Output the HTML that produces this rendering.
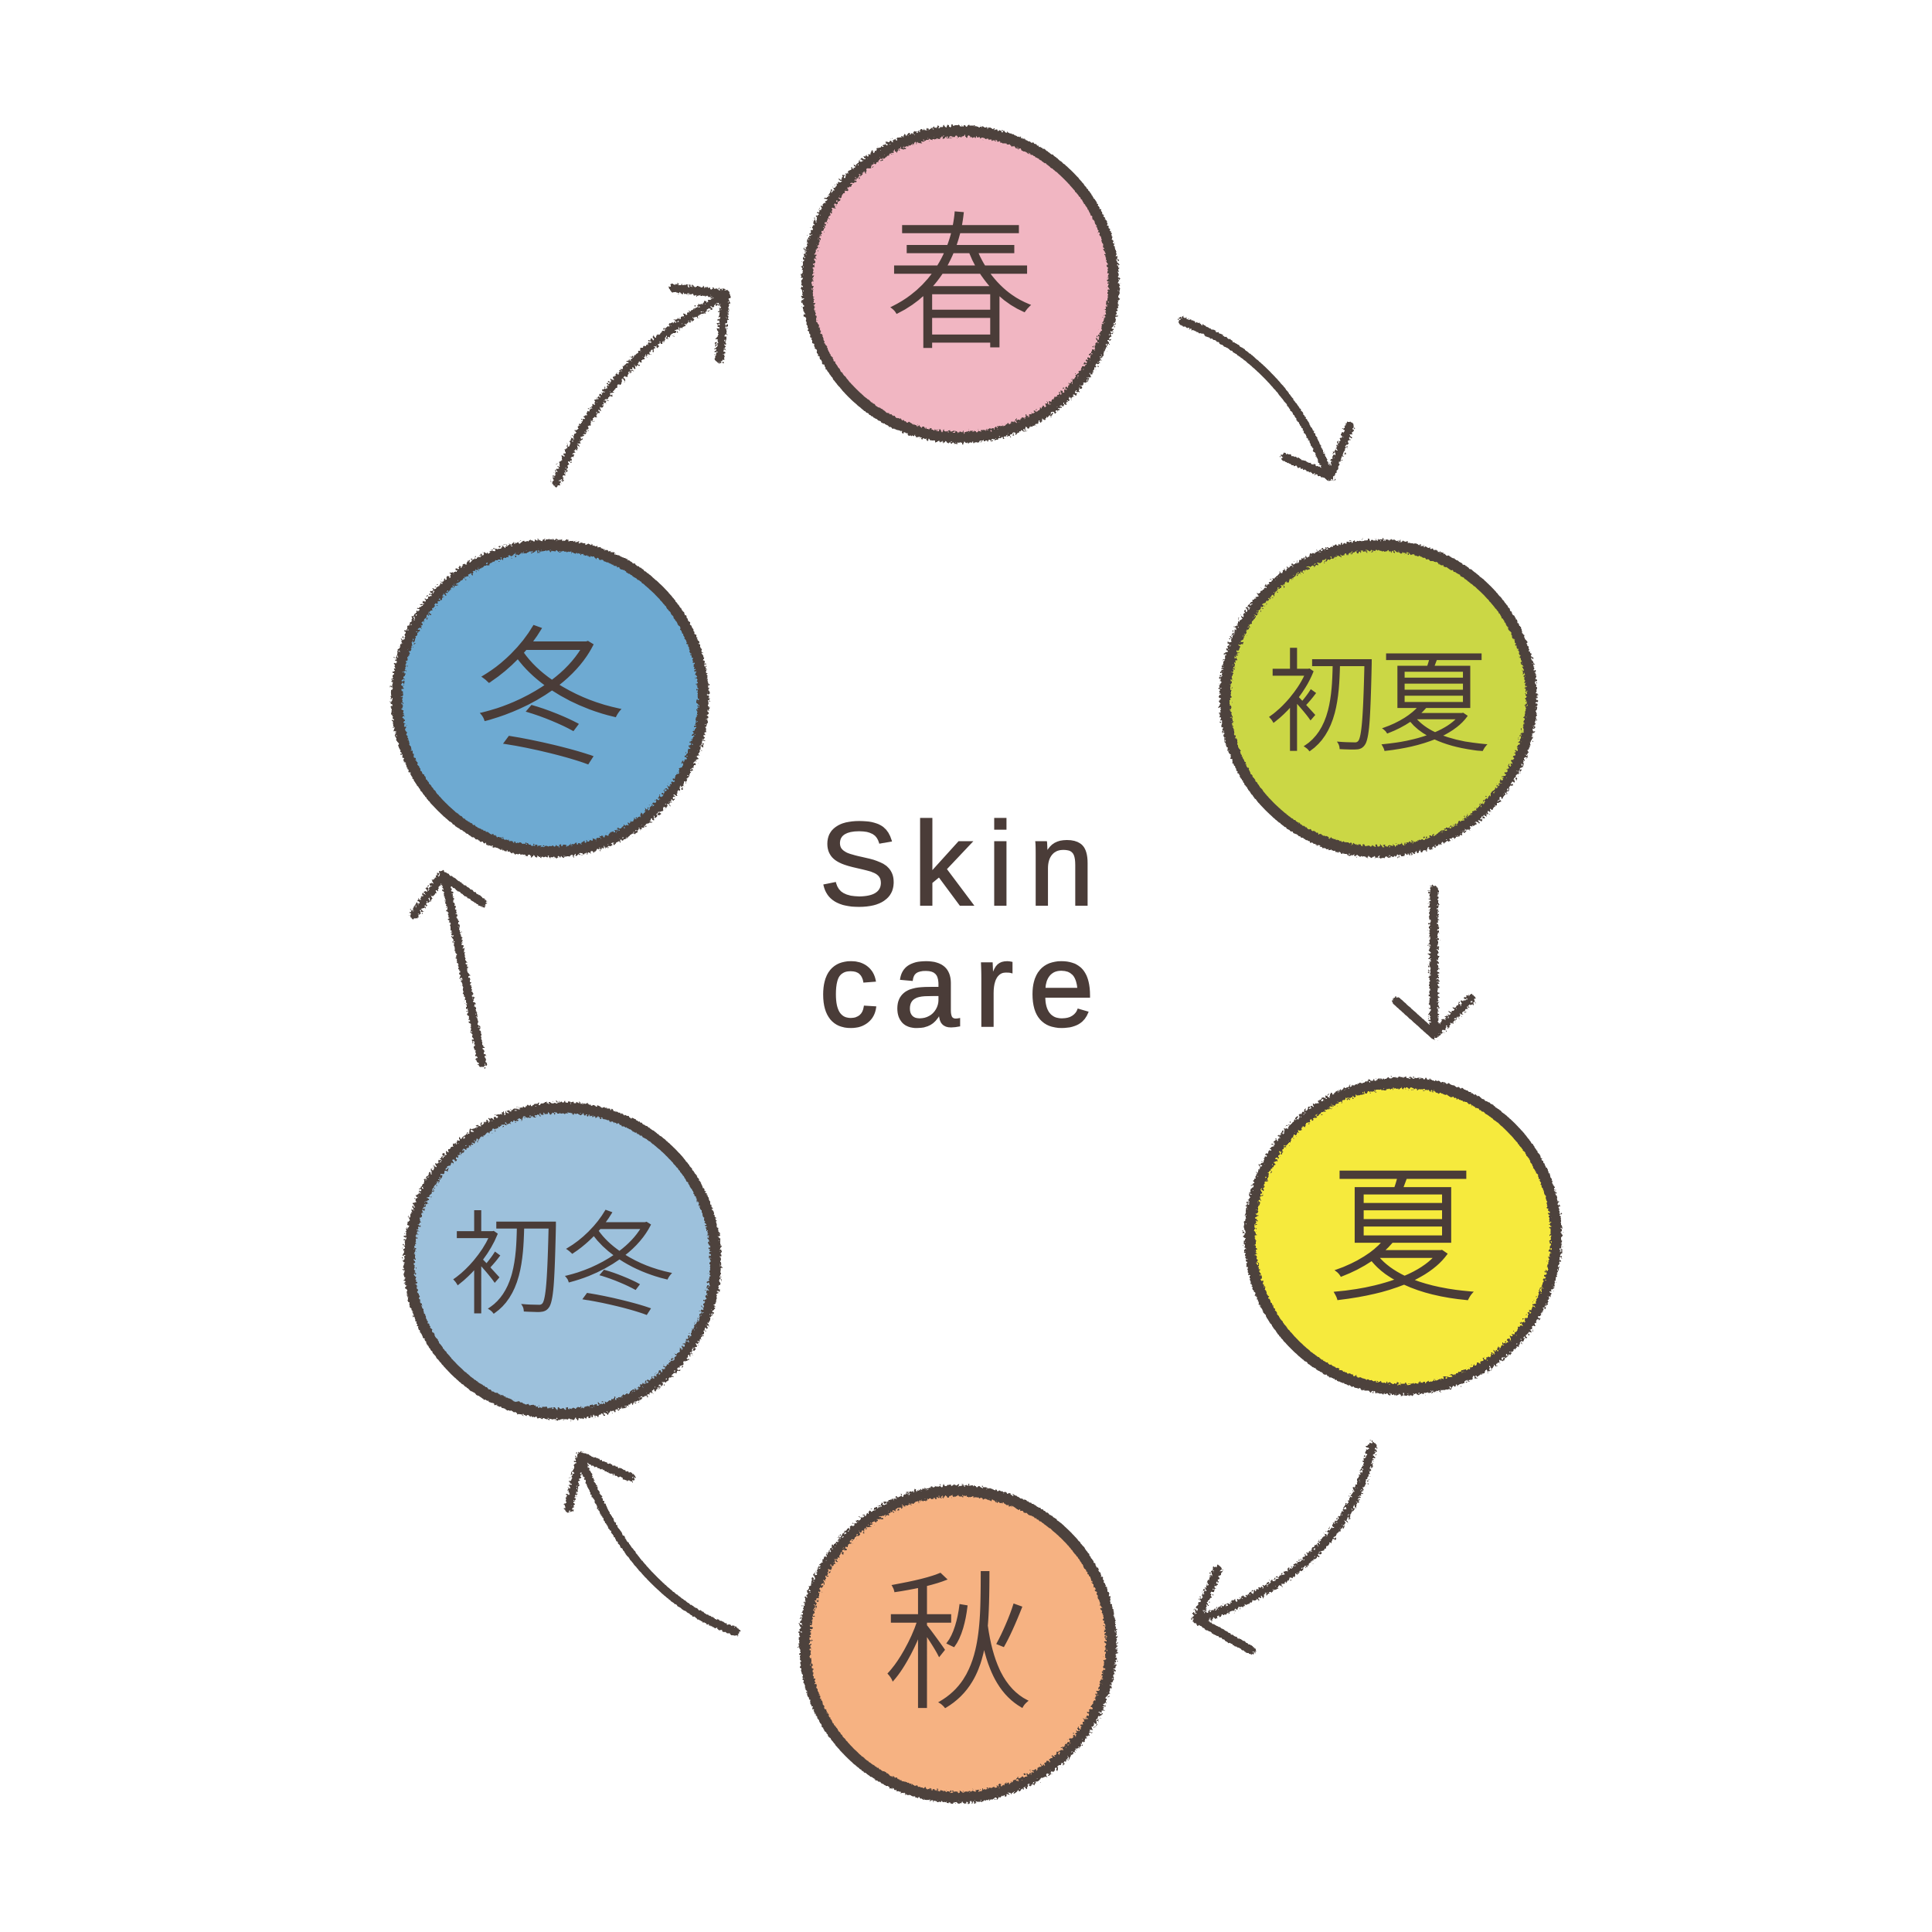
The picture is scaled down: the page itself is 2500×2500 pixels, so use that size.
<!DOCTYPE html>
<html><head><meta charset="utf-8"><style>
html,body{margin:0;padding:0;background:#fff;}
svg{display:block;}
</style></head><body>
<svg width="2500" height="2500" viewBox="0 0 1563 1563" xmlns="http://www.w3.org/2000/svg">
<defs>
<filter id="rough" x="-10%" y="-10%" width="120%" height="120%">
<feTurbulence type="fractalNoise" baseFrequency="0.6" numOctaves="2" seed="3"/>
<feDisplacementMap in="SourceGraphic" scale="5"/>
</filter>
</defs>
<g stroke="#4d423d" stroke-width="9" filter="url(#rough)">
<circle cx="777" cy="230" r="124" fill="#f1b6c2"/>
<circle cx="1115" cy="565" r="124" fill="#cbd745"/>
<circle cx="1135" cy="1000" r="124" fill="#f6ea3c"/>
<circle cx="775" cy="1330" r="124" fill="#f6b282"/>
<circle cx="455" cy="1020" r="124" fill="#9dc1dc"/>
<circle cx="445" cy="565" r="124" fill="#6eaad2"/>
</g>
<g fill="none" stroke="#4d423d" stroke-width="7" stroke-linecap="round" stroke-linejoin="round" filter="url(#rough)">
<path d="M450 390 Q490 290 585 240"/><path d="M545 233 L587 238 L582 290"/>
<path d="M957 260 Q1040 290 1075 385"/><path d="M1040 370 L1076 385 L1092 345"/>
<path d="M1160 720 L1160 835"/><path d="M1130 810 L1160 837 L1190 808"/>
<path d="M1110 1170 Q1090 1270 970 1310"/><path d="M985 1270 L968 1310 L1012 1335"/>
<path d="M595 1320 Q510 1290 470 1180"/><path d="M460 1220 L470 1178 L510 1195"/>
<path d="M390 860 L360 710"/><path d="M335 740 L358 708 L390 730"/>
</g>
<g fill="#4a3c38" stroke="#4a3c38" stroke-width="1.5" font-weight="300" font-family="'Liberation Sans','Noto Sans CJK JP',sans-serif" text-anchor="middle">
<text x="777" y="272" font-size="120">春</text>
<text x="1115" y="600" font-size="90">初夏</text>
<text x="1135" y="1042" font-size="120">夏</text>
<text x="775" y="1372" font-size="120">秋</text>
<text x="455" y="1055" font-size="90">初冬</text>
<text x="445" y="607" font-size="120">冬</text>
<text x="780" y="732" font-size="96" letter-spacing="12">Skin</text>
<text x="780" y="830" font-size="96" letter-spacing="12">care</text>
</g>
</svg>
</body></html>
